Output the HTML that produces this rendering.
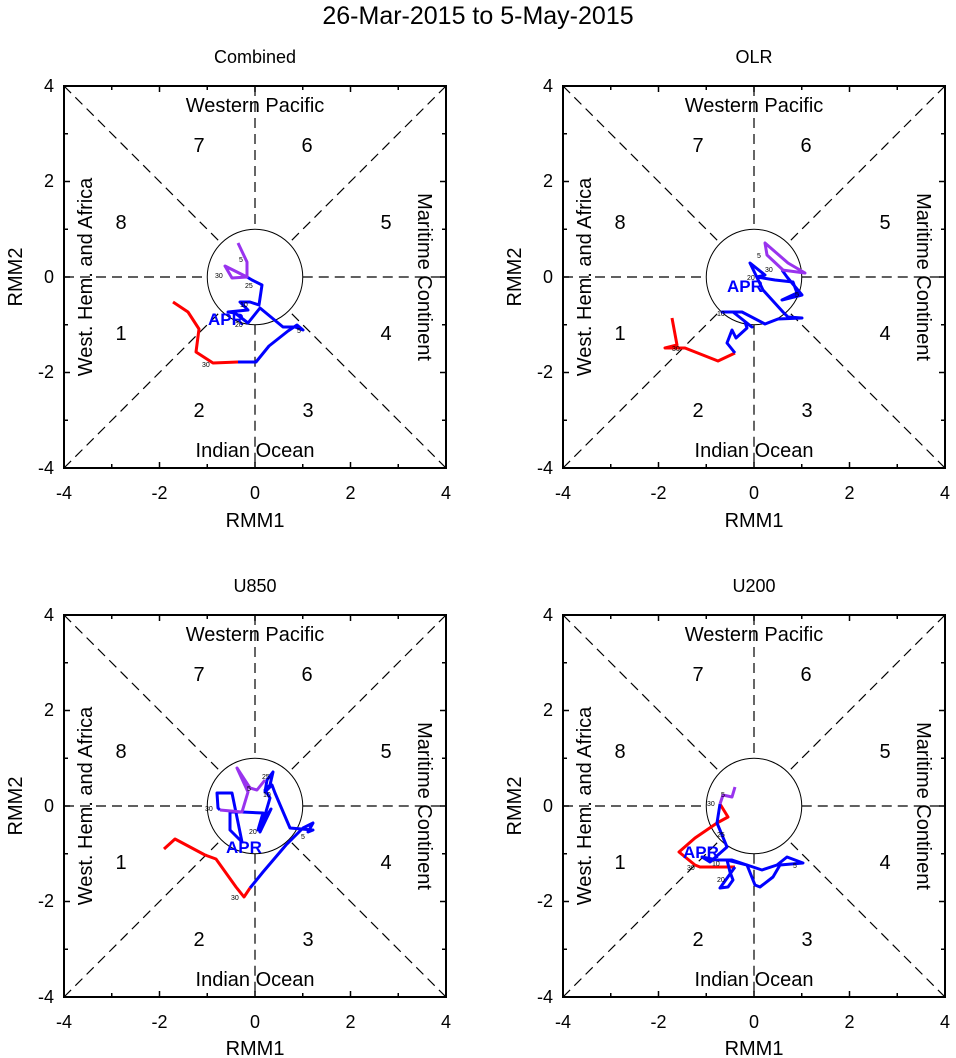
<!DOCTYPE html>
<html><head><meta charset="utf-8"><style>
body{margin:0;background:#fff}
svg{display:block;font-family:"Liberation Sans",Arial,sans-serif}
.fr{fill:none;stroke:#000;stroke-width:2}
.ds{stroke:#000;stroke-width:1.2;stroke-dasharray:10,6;fill:none}
.ph{font-size:20px;text-anchor:middle}
.tl{font-size:18px}
.r{fill:none;stroke:#f00;stroke-width:3;stroke-linejoin:round}
.b{fill:none;stroke:#00f;stroke-width:3;stroke-linejoin:round}
.p{fill:none;stroke:#9933ee;stroke-width:3;stroke-linejoin:round}
.apr{fill:#00f;font-weight:bold;font-size:17px}
.st{font-size:18px;text-anchor:middle}
</style></head><body>
<svg width="956" height="1058" viewBox="0 0 956 1058">
<text x="478" y="24" font-size="25" text-anchor="middle">26-Mar-2015 to 5-May-2015</text>

<defs>
<g id="tk">
<path d="M-191,-191v6M-143.25,-191v4M-95.5,-191v6M-47.75,-191v4M0,-191v6M47.75,-191v4M95.5,-191v6M143.25,-191v4M191,-191v6
M-191,191v-6M-143.25,191v-4M-95.5,191v-6M-47.75,191v-4M0,191v-6M47.75,191v-4M95.5,191v-6M143.25,191v-4M191,191v-6
M-191,-191h6M-191,-143.25h4M-191,-95.5h6M-191,-47.75h4M-191,0h6M-191,47.75h4M-191,95.5h6M-191,143.25h4M-191,191h6
M191,-191h-6M191,-143.25h-4M191,-95.5h-6M191,-47.75h-4M191,0h-6M191,47.75h-4M191,95.5h-6M191,143.25h-4M191,191h-6" stroke="#000" stroke-width="1.5"/>
<rect class="fr" x="-191" y="-191" width="382" height="382"/>
<circle cx="0" cy="0" r="47.75" fill="none" stroke="#000" stroke-width="1"/>
<path class="ds" d="M-191,0H-47.75M47.75,0H191M0,-191V-47.75M0,47.75V191M-191,-191L-33.8,-33.8M191,-191L33.8,-33.8M-191,191L-33.8,33.8M191,191L33.8,33.8"/>
</g>
</defs>

<!-- Panel 1 -->
<g transform="translate(255,277)">
<use href="#tk"/>
<text class="st" x="0" y="-214">Combined</text>
<text class="ph" x="0" y="-165">Western Pacific</text>
<text class="ph" x="0" y="180">Indian Ocean</text>
<text class="ph" x="-56" y="-125">7</text><text class="ph" x="52" y="-125">6</text>
<text class="ph" x="-134" y="-48">8</text><text class="ph" x="131" y="-48">5</text>
<text class="ph" x="-134" y="63">1</text><text class="ph" x="131" y="63">4</text>
<text class="ph" x="-56" y="140">2</text><text class="ph" x="53" y="140">3</text>
<text class="ph" transform="translate(-163,0) rotate(-90)">West. Hem. and Africa</text>
<text class="ph" transform="translate(163,0) rotate(90)">Maritime Continent</text>
<text class="tl" x="-191" y="222" text-anchor="middle">-4</text><text class="tl" x="-95.5" y="222" text-anchor="middle">-2</text><text class="tl" x="0" y="222" text-anchor="middle">0</text><text class="tl" x="95.5" y="222" text-anchor="middle">2</text><text class="tl" x="191" y="222" text-anchor="middle">4</text>
<text class="tl" x="-201" y="197" text-anchor="end">-4</text><text class="tl" x="-201" y="101" text-anchor="end">-2</text><text class="tl" x="-201" y="6" text-anchor="end">0</text><text class="tl" x="-201" y="-90" text-anchor="end">2</text><text class="tl" x="-201" y="-185" text-anchor="end">4</text>
<text class="ph" x="0" y="250">RMM1</text>
<text class="ph" transform="translate(-233,0) rotate(-90)">RMM2</text>
</g>
<!-- Panel 2 -->
<g transform="translate(754,277)">
<use href="#tk"/>
<text class="st" x="0" y="-214">OLR</text>
<text class="ph" x="0" y="-165">Western Pacific</text>
<text class="ph" x="0" y="180">Indian Ocean</text>
<text class="ph" x="-56" y="-125">7</text><text class="ph" x="52" y="-125">6</text>
<text class="ph" x="-134" y="-48">8</text><text class="ph" x="131" y="-48">5</text>
<text class="ph" x="-134" y="63">1</text><text class="ph" x="131" y="63">4</text>
<text class="ph" x="-56" y="140">2</text><text class="ph" x="53" y="140">3</text>
<text class="ph" transform="translate(-163,0) rotate(-90)">West. Hem. and Africa</text>
<text class="ph" transform="translate(163,0) rotate(90)">Maritime Continent</text>
<text class="tl" x="-191" y="222" text-anchor="middle">-4</text><text class="tl" x="-95.5" y="222" text-anchor="middle">-2</text><text class="tl" x="0" y="222" text-anchor="middle">0</text><text class="tl" x="95.5" y="222" text-anchor="middle">2</text><text class="tl" x="191" y="222" text-anchor="middle">4</text>
<text class="tl" x="-201" y="197" text-anchor="end">-4</text><text class="tl" x="-201" y="101" text-anchor="end">-2</text><text class="tl" x="-201" y="6" text-anchor="end">0</text><text class="tl" x="-201" y="-90" text-anchor="end">2</text><text class="tl" x="-201" y="-185" text-anchor="end">4</text>
<text class="ph" x="0" y="250">RMM1</text>
<text class="ph" transform="translate(-233,0) rotate(-90)">RMM2</text>
</g>
<!-- Panel 3 -->
<g transform="translate(255,806)">
<use href="#tk"/>
<text class="st" x="0" y="-214">U850</text>
<text class="ph" x="0" y="-165">Western Pacific</text>
<text class="ph" x="0" y="180">Indian Ocean</text>
<text class="ph" x="-56" y="-125">7</text><text class="ph" x="52" y="-125">6</text>
<text class="ph" x="-134" y="-48">8</text><text class="ph" x="131" y="-48">5</text>
<text class="ph" x="-134" y="63">1</text><text class="ph" x="131" y="63">4</text>
<text class="ph" x="-56" y="140">2</text><text class="ph" x="53" y="140">3</text>
<text class="ph" transform="translate(-163,0) rotate(-90)">West. Hem. and Africa</text>
<text class="ph" transform="translate(163,0) rotate(90)">Maritime Continent</text>
<text class="tl" x="-191" y="222" text-anchor="middle">-4</text><text class="tl" x="-95.5" y="222" text-anchor="middle">-2</text><text class="tl" x="0" y="222" text-anchor="middle">0</text><text class="tl" x="95.5" y="222" text-anchor="middle">2</text><text class="tl" x="191" y="222" text-anchor="middle">4</text>
<text class="tl" x="-201" y="197" text-anchor="end">-4</text><text class="tl" x="-201" y="101" text-anchor="end">-2</text><text class="tl" x="-201" y="6" text-anchor="end">0</text><text class="tl" x="-201" y="-90" text-anchor="end">2</text><text class="tl" x="-201" y="-185" text-anchor="end">4</text>
<text class="ph" x="0" y="249">RMM1</text>
<text class="ph" transform="translate(-233,0) rotate(-90)">RMM2</text>
</g>
<!-- Panel 4 -->
<g transform="translate(754,806)">
<use href="#tk"/>
<text class="st" x="0" y="-214">U200</text>
<text class="ph" x="0" y="-165">Western Pacific</text>
<text class="ph" x="0" y="180">Indian Ocean</text>
<text class="ph" x="-56" y="-125">7</text><text class="ph" x="52" y="-125">6</text>
<text class="ph" x="-134" y="-48">8</text><text class="ph" x="131" y="-48">5</text>
<text class="ph" x="-134" y="63">1</text><text class="ph" x="131" y="63">4</text>
<text class="ph" x="-56" y="140">2</text><text class="ph" x="53" y="140">3</text>
<text class="ph" transform="translate(-163,0) rotate(-90)">West. Hem. and Africa</text>
<text class="ph" transform="translate(163,0) rotate(90)">Maritime Continent</text>
<text class="tl" x="-191" y="222" text-anchor="middle">-4</text><text class="tl" x="-95.5" y="222" text-anchor="middle">-2</text><text class="tl" x="0" y="222" text-anchor="middle">0</text><text class="tl" x="95.5" y="222" text-anchor="middle">2</text><text class="tl" x="191" y="222" text-anchor="middle">4</text>
<text class="tl" x="-201" y="197" text-anchor="end">-4</text><text class="tl" x="-201" y="101" text-anchor="end">-2</text><text class="tl" x="-201" y="6" text-anchor="end">0</text><text class="tl" x="-201" y="-90" text-anchor="end">2</text><text class="tl" x="-201" y="-185" text-anchor="end">4</text>
<text class="ph" x="0" y="249">RMM1</text>
<text class="ph" transform="translate(-233,0) rotate(-90)">RMM2</text>
</g>

<!-- Trajectories panel 1 -->
<polyline class="r" points="173,302 188,312 199,329 196,352 213,363 238,362"/>
<polyline class="b" points="238,362 256,362 269,346 288,331 297,325 303,330 295,327 283,327 260,308 248,323 235,313 228,312 248,310 240,302 250,302 259,305 262,285 252,280 247,277"/>
<polyline class="p" points="247,277 232,278 225,266 237,272 247,277 247,262 238,243"/>
<text class="apr" x="208" y="325">APR</text>
<g font-size="7"><text x="202" y="367">30</text><text x="215" y="278">30</text><text x="239" y="262">5</text><text x="297" y="333">5</text><text x="240" y="307">10</text><text x="245" y="288">25</text><text x="235" y="327">20</text></g>

<!-- panel 2 -->
<polyline class="r" points="672,318 677,345 665,348 685,348 718,361 735,353"/>
<polyline class="b" points="735,353 727,343 732,330 736,338 747,328 745,322 752,327 733,312 722,312 742,312 765,324 778,319 802,318 788,317 783,312 763,290 750,263 765,275 757,277 775,280 793,282 797,293 782,300 802,295 787,277 782,270"/>
<polyline class="p" points="782,270 805,273 788,263 765,243 767,255 783,270"/>
<text class="apr" x="727" y="292">APR</text>
<g font-size="7"><text x="672" y="351">30</text><text x="765" y="272">30</text><text x="757" y="258">5</text><text x="795" y="297">5</text><text x="717" y="316">10</text><text x="747" y="280">20</text></g>

<!-- panel 3 -->
<polyline class="r" points="164,849 175,839 205,855 216,859 236,887 244,897 250,888"/>
<polyline class="b" points="250,888 263,872 286,845 303,828 313,823 308,832 313,830 290,828 275,793 272,785 265,792 267,780 273,772 270,785 265,790 270,798 260,832 271,809 258,830 263,813 242,812 230,812 230,830 242,842 232,793 217,793 218,808 220,810"/>
<polyline class="p" points="220,810 242,812 248,792 237,768 250,788 257,790 265,780"/>
<text class="apr" x="226" y="853">APR</text>
<g font-size="7"><text x="205" y="811">30</text><text x="231" y="900">30</text><text x="247" y="791">5</text><text x="301" y="839">5</text><text x="263" y="797">10</text><text x="262" y="779">25</text><text x="249" y="834">20</text></g>

<!-- panel 4 -->
<polyline class="r" points="720,804 728,817 717,823 695,838 679,852 695,865 700,867 735,867"/>
<polyline class="b" points="735,867 720,888 728,887 733,880 730,872 727,860 735,862 747,865 762,870 777,865 787,857 803,863 780,865 773,877 760,887 755,885 747,865 732,860 717,860 702,857 710,862 727,847 717,823 720,804"/>
<polyline class="p" points="720,804 723,795 732,797 735,787"/>
<text class="apr" x="683" y="858">APR</text>
<g font-size="7"><text x="707" y="806">30</text><text x="687" y="870">30</text><text x="721" y="797">5</text><text x="793" y="868">5</text><text x="712" y="866">10</text><text x="717" y="837">25</text><text x="717" y="882">20</text></g>
</svg>
</body></html>
